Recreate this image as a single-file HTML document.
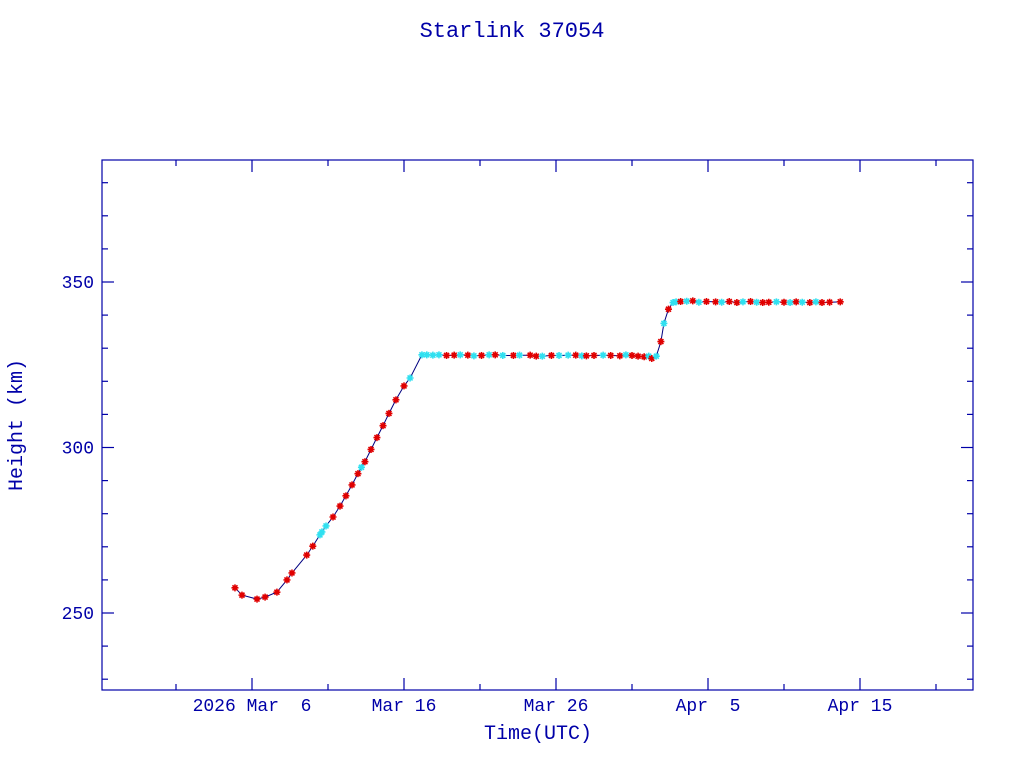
<!DOCTYPE html>
<html><head><meta charset="utf-8"><style>
body{margin:0;background:#fff;}
svg{display:block;font-family:"Liberation Mono",monospace;}
</style></head><body>
<svg id="c" width="1024" height="768" xmlns="http://www.w3.org/2000/svg">
<text x="512" y="37" text-anchor="middle" font-size="22" fill="#0000a8">Starlink 37054</text>
<rect x="102" y="160" width="871" height="530" fill="none" stroke="#0000a8" stroke-width="1.2"/>
<g id="ticks"></g><g id="line"></g><g id="marks"></g>
<text x="538" y="739" text-anchor="middle" font-size="20" fill="#0000a8">Time(UTC)</text>
<text transform="translate(22,425) rotate(-90)" text-anchor="middle" font-size="20" fill="#0000a8">Height (km)</text>
</svg>
<script>
// days relative to 2026 Mar 6
const xTickDays=[0,10,20,30,40];
const xTickLabels=["2026 Mar  6","Mar 16","Mar 26","Apr  5","Apr 15"];
const yTickValues=[250,300,350];
const pointDays=[-1.12,-0.66,0.33,0.86,1.64,2.3,2.63,3.6,4.0,4.47,4.6,4.87,5.33,5.79,6.18,6.58,6.97,7.2,7.43,7.83,8.22,8.62,9.01,9.47,10.0,10.4,11.18,11.5,11.9,12.3,12.8,13.3,13.7,14.2,14.6,15.1,15.6,16.0,16.5,17.2,17.6,18.3,18.7,19.1,19.7,20.2,20.8,21.3,21.7,22.0,22.5,23.1,23.6,24.2,24.6,25.0,25.4,25.8,26.1,26.3,26.6,26.9,27.1,27.4,27.7,27.9,28.2,28.6,29.0,29.4,29.9,30.5,30.9,31.4,31.9,32.3,32.8,33.2,33.6,34.0,34.5,35.0,35.4,35.8,36.2,36.7,37.1,37.5,38.0,38.7];
const pointHeights=[257.6,255.4,254.2,254.8,256.3,260,262.1,267.5,270.2,273.6,274.5,276.3,279,282.3,285.4,288.7,292.1,294,295.7,299.4,303,306.6,310.3,314.4,318.6,321,328,328,327.9,328,327.8,327.9,328,327.9,327.7,327.8,328,328,327.8,327.8,327.9,327.9,327.6,327.6,327.8,327.8,327.9,327.9,327.7,327.7,327.8,327.9,327.8,327.7,328,327.8,327.6,327.4,327.6,326.9,327.6,332,337.5,341.8,343.8,344,344.1,344.2,344.3,343.9,344.1,344,343.9,344.1,343.8,344,344.1,343.9,343.8,343.9,344,343.9,343.8,344,343.9,343.8,344,343.8,343.9,344];
const pointTypes=["r","r","r","r","r","r","r","r","r","c","c","c","r","r","r","r","r","c","r","r","r","r","r","r","r","c","c","c","c","c","r","r","c","r","c","r","c","r","c","r","c","r","r","c","r","c","c","r","c","r","r","c","r","r","c","r","r","r","c","r","c","r","c","r","c","c","r","c","r","c","r","r","c","r","r","c","r","c","r","r","c","r","c","r","c","r","c","r","r","r"];
const X=d=>252+d*15.2;
const Y=h=>613-(h-250)*3.31;
const NS="http://www.w3.org/2000/svg";
function mk(t,a,p){const e=document.createElementNS(NS,t);for(const k in a)e.setAttribute(k,a[k]);p.appendChild(e);return e;}
const tk=document.getElementById('ticks');
for(let d=-5;d<=45;d+=5){const x=X(d);if(x<102||x>973)continue;const L=(d%10===0)?12:6;
 const t1=mk('line',{x1:x,y1:690,x2:x,y2:690-L,stroke:'#0000a8','stroke-width':1.2},tk);
 
 const t2=mk('line',{x1:x,y1:160,x2:x,y2:160+L,stroke:'#0000a8','stroke-width':1.2},tk);
 }
xTickDays.forEach((d,i)=>{const t=mk('text',{x:X(d),y:711,'text-anchor':'middle','font-size':18,fill:'#0000a8'},tk);t.textContent=xTickLabels[i].replace(/ /g,'\u00a0');
 });
for(let h=230;h<=380;h+=10){const y=Y(h);if(y<160||y>690)continue;const L=(h%50===0)?12:6;
 const a=mk('line',{x1:102,y1:y,x2:102+L,y2:y,stroke:'#0000a8','stroke-width':1.2},tk);
 
 const b=mk('line',{x1:973,y1:y,x2:973-L,y2:y,stroke:'#0000a8','stroke-width':1.2},tk);
 }
yTickValues.forEach(v=>{const t=mk('text',{x:94,y:Y(v)+6,'text-anchor':'end','font-size':18,fill:'#0000a8'},tk);t.textContent=v;
 });
const pts=pointDays.map((d,i)=>X(d).toFixed(1)+','+Y(pointHeights[i]).toFixed(1)).join(' ');
const pl=mk('polyline',{points:pts,fill:'none',stroke:'#000080','stroke-width':1},document.getElementById('line'));

const mg=document.getElementById('marks');
pointDays.forEach((d,i)=>{const x=X(d),y=Y(pointHeights[i]);const col=pointTypes[i]==='r'?'#e00000':'#30e0f0';
 const g=mk('path',{d:`M${x-3.5} ${y}H${x+3.5}M${x} ${y-3.5}V${y+3.5}M${x-2.5} ${y-2.5}L${x+2.5} ${y+2.5}M${x-2.5} ${y+2.5}L${x+2.5} ${y-2.5}`,stroke:col,'stroke-width':1.6},mg);
 });
</script>
</body></html>
